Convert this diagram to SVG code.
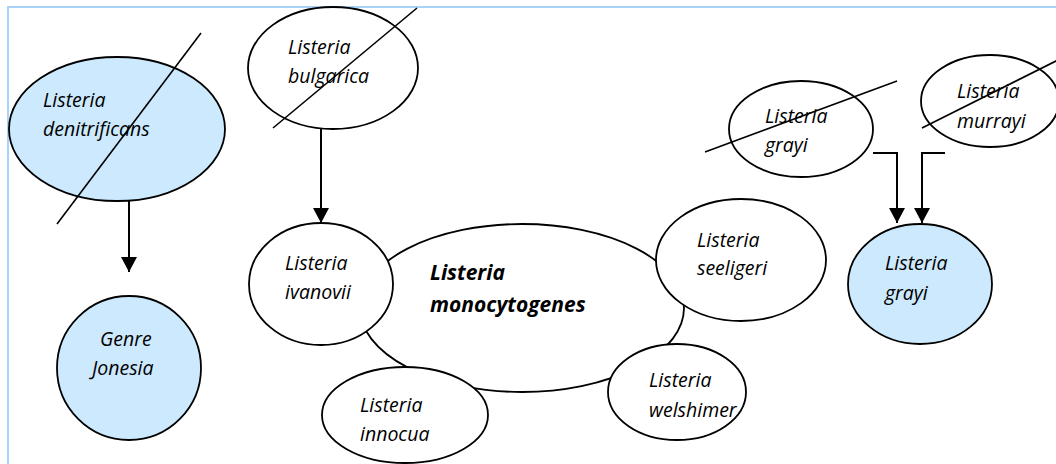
<svg xmlns="http://www.w3.org/2000/svg" width="1056" height="464" viewBox="0 0 1056 464">
<defs>
<marker id="arr" markerUnits="userSpaceOnUse" markerWidth="16" markerHeight="16" viewBox="0 0 16 16" refX="15" refY="8" orient="auto">
<path d="M0,0 L15,8 L0,16 Z" fill="#000"/>
</marker>
<style>
.n{fill:#fff;stroke:#000;stroke-width:1.8}
.b{fill:#cce9fd;stroke:#000;stroke-width:1.8}
.t{font-family:"Open Sans","Liberation Sans",sans-serif;font-style:italic;font-size:19.5px;fill:#000}
.tb{font-family:"Open Sans","Liberation Sans",sans-serif;font-style:italic;font-weight:bold;font-size:21px;fill:#000}
.s{stroke:#000;stroke-width:1.6;fill:none}
.c{stroke:#000;stroke-width:2;fill:none}
</style>
</defs>
<rect x="8" y="7" width="1100" height="500" fill="#fff" stroke="#a8d2f7" stroke-width="2"/>

<g id="connectors">
<line class="c" x1="129" y1="201" x2="129" y2="272" marker-end="url(#arr)"/>
<line class="c" x1="321" y1="129" x2="321" y2="223" marker-end="url(#arr)"/>
<polyline class="c" points="873,153 897,153 897,223" marker-end="url(#arr)"/>
<polyline class="c" points="945,153 922,153 922,223" marker-end="url(#arr)"/>
</g>

<g id="denitrificans">
<ellipse class="b" cx="117" cy="129" rx="108" ry="72"/>
<text class="t" x="43" y="107">Listeria</text>
<text class="t" x="43" y="136">denitrificans</text>
<line class="s" x1="201" y1="33" x2="57" y2="224"/>
</g>

<g id="jonesia">
<circle class="b" cx="129" cy="368" r="72"/>
<text class="t" x="100" y="346">Genre</text>
<text class="t" x="92" y="375">Jonesia</text>
</g>

<g id="bulgarica">
<ellipse class="n" cx="333" cy="68" rx="85" ry="61"/>
<text class="t" x="288" y="54">Listeria</text>
<text class="t" x="288" y="83">bulgarica</text>
<line class="s" x1="417" y1="8" x2="273" y2="128"/>
</g>

<g id="monocytogenes">
<ellipse class="n" cx="522" cy="308" rx="162" ry="84"/>
<text class="tb" x="430" y="280">Listeria</text>
<text class="tb" x="430" y="312">monocytogenes</text>
</g>

<g id="ivanovii">
<ellipse class="n" cx="321" cy="284" rx="72" ry="61"/>
<text class="t" x="285" y="270">Listeria</text>
<text class="t" x="285" y="299">ivanovii</text>
</g>

<g id="seeligeri">
<ellipse class="n" cx="741" cy="260" rx="85" ry="61"/>
<text class="t" x="697" y="247">Listeria</text>
<text class="t" x="697" y="275">seeligeri</text>
</g>

<g id="welshimer">
<ellipse class="n" cx="677" cy="392" rx="69" ry="48"/>
<text class="t" x="649" y="387">Listeria</text>
<text class="t" x="649" y="417">welshimer</text>
</g>

<g id="innocua">
<ellipse class="n" cx="405" cy="415" rx="83" ry="48"/>
<text class="t" x="360" y="412">Listeria</text>
<text class="t" x="360" y="441">innocua</text>
</g>

<g id="grayi-crossed">
<ellipse class="n" cx="801" cy="129" rx="72" ry="48"/>
<text class="t" x="765" y="123">Listeria</text>
<text class="t" x="765" y="152">grayi</text>
<line class="s" x1="705" y1="152" x2="897" y2="81"/>
</g>

<g id="murrayi">
<ellipse class="n" cx="990" cy="101" rx="69" ry="46"/>
<text class="t" x="957" y="98">Listeria</text>
<text class="t" x="957" y="128">murrayi</text>
<line class="s" x1="922" y1="128" x2="1058" y2="60"/>
</g>

<g id="grayi">
<ellipse class="b" cx="920" cy="284" rx="72" ry="60"/>
<text class="t" x="885" y="270">Listeria</text>
<text class="t" x="885" y="300">grayi</text>
</g>
</svg>
